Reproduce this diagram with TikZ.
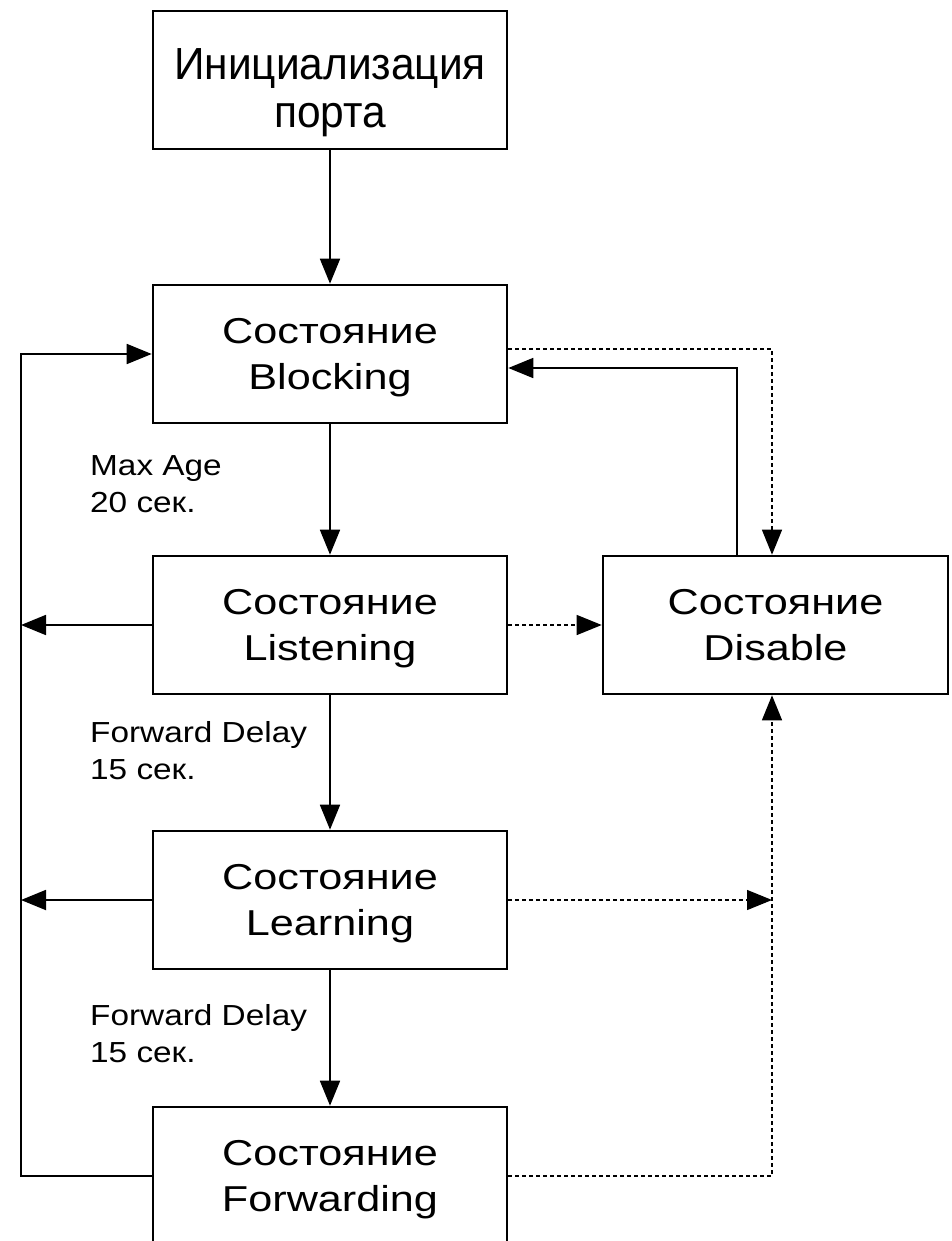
\documentclass[tikz,border=0pt]{standalone}
\usepackage{fontspec}
\setmainfont{Liberation Sans}
\newfontfamily\boxfont[FakeStretch=1.2]{Liberation Sans}
\newfontfamily\initfont[FakeStretch=0.943]{Liberation Sans}
\newfontfamily\lblfont[FakeStretch=1.15]{Liberation Sans}
\usetikzlibrary{arrows.meta}
\begin{document}
\begin{tikzpicture}[x=1pt,y=-1pt,
  state/.style={draw=black,line width=2.6pt,minimum width=354pt,minimum height=138pt,
    align=center,inner sep=0pt,text depth=0pt,font=\boxfont\fontsize{36}{46}\selectfont},
  inittxt/.style={align=center,inner sep=0pt,text depth=0pt,font=\initfont\fontsize{45}{48}\selectfont},
  lbl/.style={anchor=north west,align=left,inner sep=0pt,font=\lblfont\fontsize{29}{37.5}\selectfont},
  conn/.style={line width=1.8pt},
  arr/.style={-{Triangle[length=25pt,width=20pt]}},
  dsh/.style={line width=1.3pt,dash pattern=on 4pt off 3pt}]
\useasboundingbox (0,0) rectangle (951,1241);
\fill[white] (0,0) rectangle (951,1241);

\node[state] (init) at (330,80) {};
\node[inittxt] (inittext) at (330,88) {Инициализация\\порта};
\node[state] (block) at (330,354) {Состояние\\Blocking};
\node[state] (listen) at (330,625) {Состояние\\Listening};
\node[state,minimum width=345pt] (dis) at (775.5,625) {Состояние\\Disable};
\node[state] (learn) at (330,900) {Состояние\\Learning};
\node[state] (forw) at (330,1176) {Состояние\\Forwarding};

\node[lbl] (l1) at (90,455) {Max Age\\20 сек.};
\node[lbl] (l2) at (90,721) {Forward Delay\\15 сек.};
\node[lbl] (l3) at (90,1004) {Forward Delay\\15 сек.};

\coordinate (L) at (21,0);
\coordinate (R) at (772,0);

% main chain
\draw[conn,arr] (init) -- (block);
\draw[conn,arr] (block) -- (listen);
\draw[conn,arr] (listen) -- (learn);
\draw[conn,arr] (learn) -- (forw);

% left loop
\draw[conn,arr] (forw.west) -- (L |- forw.west) -- (L |- block.west) -- (block.west);
\draw[conn,arr] (listen.west) -- (L |- listen.west);
\draw[conn,arr] (learn.west) -- (L |- learn.west);

% right side
\draw[dsh,arr] ([yshift=5pt]block.east) -| ([xshift=-3.5pt]dis.north);
\draw[conn,arr] ([xshift=-38.5pt]dis.north) |- ([yshift=-14pt]block.east);
\draw[dsh,arr] (listen.east) -- (dis.west);
\draw[dsh,arr] (learn.east) -- (R |- learn.east);
\draw[dsh,arr] (forw.east) -| ([xshift=-3.5pt]dis.south);
\end{tikzpicture}
\end{document}
